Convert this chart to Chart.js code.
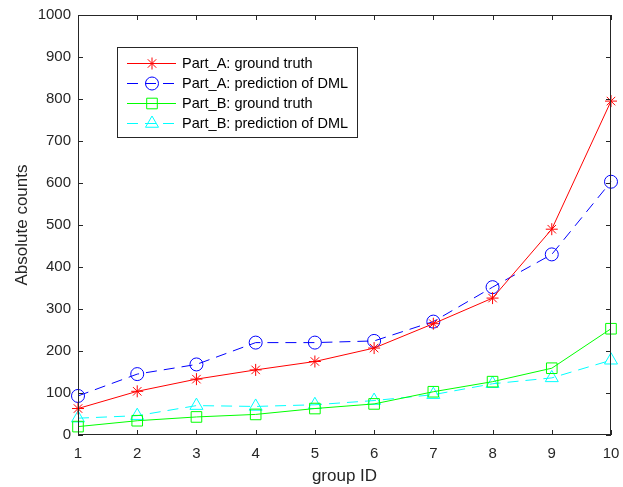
<!DOCTYPE html>
<html>
<head>
<meta charset="utf-8">
<script src="https://cdn.jsdelivr.net/npm/chart.js@4.4.0/dist/chart.umd.min.js"></script>
<style>
  html, body { margin: 0; padding: 0; background: #fff; }
  #wrap { width: 623px; height: 487px; }
</style>
</head>
<body>
<div id="wrap"><canvas id="chart" width="623" height="487"></canvas></div>
<script>
// group IDs along the x axis
const groupIds = [1, 2, 3, 4, 5, 6, 7, 8, 9, 10];

// values
const partATruth = [63, 104, 133, 155, 175, 207, 265, 326, 490, 795];
const partAPred  = [93, 145, 168, 220, 220, 224, 270, 352, 430, 603];
const partBTruth = [20, 34, 43, 49, 63, 74, 103, 127, 159, 253];
const partBPred  = [40, 46, 70, 68, 72, 82, 96, 122, 136, 178];

const seriesNames = [
  "Part_A: ground truth",
  "Part_A: prediction of DML",
  "Part_B: ground truth",
  "Part_B: prediction of DML"
];

const yTicks = [0, 100, 200, 300, 400, 500, 600, 700, 800, 900, 1000];

const AXIS_COLOR = "#262626";
const FONT = "'Liberation Sans', Arial, sans-serif";

function toPoints(values) {
  return values.map(function (v, i) { return { x: groupIds[i], y: v }; });
}

// Draws the MATLAB-style box with inward ticks on all four sides
const boxPlugin = {
  id: "box",
  afterDatasetsDraw: function (chart) {
    const ctx = chart.ctx;
    const a = chart.chartArea;
    const xs = chart.scales.x;
    const ys = chart.scales.y;
    const tick = 5;
    ctx.save();
    ctx.strokeStyle = AXIS_COLOR;
    ctx.lineWidth = 1;
    ctx.strokeRect(Math.round(a.left) + 0.5, Math.round(a.top) + 0.5,
                   Math.round(a.right - a.left) - 1, Math.round(a.bottom - a.top) - 1);
    ctx.beginPath();
    groupIds.forEach(function (g) {
      const px = Math.round(xs.getPixelForValue(g)) + 0.5;
      ctx.moveTo(px, a.bottom); ctx.lineTo(px, a.bottom - tick);
      ctx.moveTo(px, a.top);    ctx.lineTo(px, a.top + tick);
    });
    yTicks.forEach(function (t) {
      const py = Math.round(ys.getPixelForValue(t)) + 0.5;
      ctx.moveTo(a.left, py);  ctx.lineTo(a.left + tick, py);
      ctx.moveTo(a.right, py); ctx.lineTo(a.right - tick, py);
    });
    ctx.stroke();
    ctx.restore();
  }
};

// Legend box drawn by hand so each entry shows line + marker like MATLAB
const legendPlugin = {
  id: "matLegend",
  afterDraw: function (chart) {
    const ctx = chart.ctx;
    const box = { left: 117.5, top: 47.5, right: 357.5, bottom: 137.5 };
    const rows = [63, 83, 103, 123];
    ctx.save();
    ctx.fillStyle = "#fff";
    ctx.fillRect(box.left, box.top, box.right - box.left, box.bottom - box.top);
    ctx.strokeStyle = AXIS_COLOR;
    ctx.lineWidth = 1;
    ctx.strokeRect(box.left, box.top, box.right - box.left, box.bottom - box.top);

    chart.data.datasets.forEach(function (ds, i) {
      const y = rows[i];
      ctx.strokeStyle = ds.borderColor;
      ctx.lineWidth = 1;
      ctx.setLineDash(ds.borderDash || []);
      ctx.beginPath();
      ctx.moveTo(127, y + 0.5); ctx.lineTo(176, y + 0.5);
      ctx.stroke();
      ctx.setLineDash([]);
      ctx.fillStyle = "rgba(0,0,0,0)";
      ctx.strokeStyle = ds.borderColor;
      Chart.helpers.drawPoint(ctx, {
        pointStyle: ds.pointStyle,
        radius: ds.pointRadius,
        borderWidth: 1,
        rotation: 0
      }, 152, y + 0.5);
      ctx.fillStyle = "#000";
      ctx.font = "14.5px " + FONT;
      ctx.textBaseline = "middle";
      ctx.fillText(seriesNames[i], 182, y + 1);
    });
    ctx.restore();
  }
};

function makeSet(idx, values, color, style, radius, dash) {
  return {
    label: seriesNames[idx],
    data: toPoints(values),
    borderColor: color,
    backgroundColor: "rgba(0,0,0,0)",
    pointBorderColor: color,
    pointBackgroundColor: "rgba(0,0,0,0)",
    borderWidth: 1,
    borderDash: dash,
    pointStyle: style,
    pointRadius: radius,
    pointBorderWidth: 1,
    tension: 0,
    clip: false
  };
}

new Chart(document.getElementById("chart"), {
  type: "line",
  data: {
    datasets: [
      makeSet(0, partATruth, "#ff0000", "star", 6, []),
      makeSet(1, partAPred,  "#0000ff", "circle", 6.5, [11, 7]),
      makeSet(2, partBTruth, "#00ff00", "rect", 7.5, []),
      makeSet(3, partBPred,  "#00ffff", "triangle", 7.5, [11, 7])
    ]
  },
  options: {
    responsive: false,
    animation: false,
    layout: { padding: { left: 0, right: 12, top: 15, bottom: 0 } },
    plugins: {
      legend: { display: false },
      tooltip: { enabled: false }
    },
    scales: {
      x: {
        type: "linear",
        min: 1,
        max: 10,
        afterFit: function (s) {
          s.height = 52;
          s.paddingLeft = 0;
          s.paddingRight = 0;
        },
        afterBuildTicks: function (s) {
          s.ticks = groupIds.map(function (v) { return { value: v }; });
        },
        grid: { display: false, drawTicks: false },
        border: { display: false },
        ticks: { color: AXIS_COLOR, font: { size: 15, family: FONT }, padding: 10, maxRotation: 0 },
        title: { display: true, text: "group ID", color: AXIS_COLOR, font: { size: 17, family: FONT }, padding: { top: 0, bottom: 0 } }
      },
      y: {
        type: "linear",
        min: 0,
        max: 1000,
        afterFit: function (s) {
          s.width = 78;
          s.paddingTop = 0;
          s.paddingBottom = 0;
        },
        afterBuildTicks: function (s) {
          s.ticks = yTicks.map(function (v) { return { value: v }; });
        },
        grid: { display: false, drawTicks: false },
        border: { display: false },
        ticks: {
          color: AXIS_COLOR,
          font: { size: 15, family: FONT },
          padding: 7,
          callback: function (v) { return String(v); }
        },
        title: { display: true, text: "Absolute counts", color: AXIS_COLOR, font: { size: 17, family: FONT }, padding: { top: 12, bottom: 0 } }
      }
    }
  },
  plugins: [boxPlugin, legendPlugin]
});
</script>
</body>
</html>
